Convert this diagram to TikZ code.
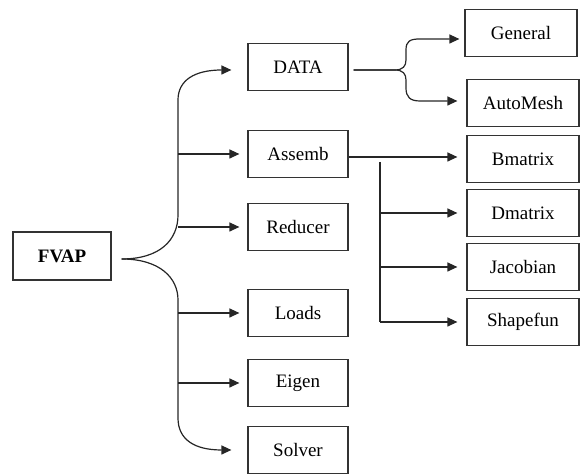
\documentclass[tikz,border=0pt]{standalone}
\usepackage{fontspec}
\setmainfont{Liberation Serif}
\usetikzlibrary{arrows.meta, positioning, calc}
\tikzset{
    modbox/.style={rectangle, draw=black!80, line width=0.6pt, fill=white,
                   align=center, inner sep=2pt, minimum width=50pt,
                   minimum height=23.5pt, font=\fontsize{9.5}{11}\selectfont},
    subbox/.style={modbox, minimum width=56pt},
    rootbox/.style={modbox, minimum width=49pt, minimum height=24pt,
                    font=\fontsize{9.5}{11}\selectfont\bfseries},
    arrow/.style={-{Triangle[length=5pt, width=4.5pt]}, line width=0.6pt, draw=black!85},
    link/.style={line width=0.6pt, draw=black!85},
}

\begin{document}
\begin{tikzpicture}[x=0.5pt, y=-0.5pt]
        \useasboundingbox (0,0) rectangle (580,474);
        % root
        \node[rootbox] (fvap) at (62, 256) {FVAP};
        % first level
        \node[modbox] (data) at (298, 67) {DATA};
        \node[modbox] (assemb) at (298, 154) {Assemb};
        \node[modbox] (reducer) at (298, 227) {Reducer};
        \node[modbox] (loads) at (298, 313) {Loads};
        \node[modbox] (eigen) at (298, 383) {Eigen};
        \node[modbox] (solver) at (298, 450) {Solver};
        % second level
        \node[subbox] (general) at (521, 33) {General};
        \node[subbox] (automesh) at (523, 103) {AutoMesh};
        \node[subbox] (bmatrix) at (523, 159) {Bmatrix};
        \node[subbox] (dmatrix) at (523, 213) {Dmatrix};
        \node[subbox] (jacobian) at (523, 267) {Jacobian};
        \node[subbox] (shapefun) at (523, 322) {Shapefun};
        % helper points
        \coordinate (fvapout) at ([xshift=5pt, yshift=-1.5pt]fvap.east);
        \coordinate (trunk) at (178, 259);
        \coordinate (dataout) at ([xshift=2.5pt, yshift=-1.5pt]data.east);
        \coordinate (fork) at (406, 70);
        \coordinate (split) at (380, 162);
        % main bracket
        \draw[arrow] (fvapout) .. controls (160,259) and (trunk |- 0,240) .. (trunk |- 0,215)
            -- (trunk |- 0,100) .. controls (trunk |- 0,80) and (195,70) .. ([xshift=-8pt, yshift=-1.5pt]data.west);
        \draw[arrow] (fvapout) .. controls (160,259) and (trunk |- 0,278) .. (trunk |- 0,300)
            -- (trunk |- 0,418) .. controls (trunk |- 0,440) and (195,450) .. ([xshift=-8pt]solver.west);
        \draw[arrow] (trunk |- assemb.west) -- ([xshift=-4pt]assemb.west);
        \draw[arrow] (trunk |- reducer.west) -- ([xshift=-4pt]reducer.west);
        \draw[arrow] (trunk |- loads.west) -- ([xshift=-4pt]loads.west);
        \draw[arrow] (trunk |- eigen.west) -- ([xshift=-4pt]eigen.west);
        % DATA fork
        \draw[arrow] (dataout) -- (395,70) .. controls (403,70) and (fork |- 0,66) .. (fork |- 0,60)
            -- (fork |- 0,50) .. controls (fork |- 0,41) and (410,39) .. (420,39)
            -- ([xshift=-2.5pt]general.west |- 0,39);
        \draw[arrow] (dataout) -- (395,70) .. controls (403,70) and (fork |- 0,74) .. (fork |- 0,80)
            -- (fork |- 0,88) .. controls (fork |- 0,97) and (410,101) .. (420,101)
            -- ([xshift=-4.5pt]automesh.west |- 0,101);
        % Assemb branches
        \draw[arrow] ([yshift=-1.5pt]assemb.east) -- ([xshift=-4.5pt, yshift=-1.5pt]bmatrix.west |- assemb.east);
        \draw[link] (split) -- (split |- shapefun.west);
        \draw[arrow] (split |- dmatrix.west) -- ([xshift=-4.5pt]dmatrix.west);
        \draw[arrow] (split |- jacobian.west) -- ([xshift=-4.5pt]jacobian.west);
        \draw[arrow] (split |- shapefun.west) -- ([xshift=-4.5pt]shapefun.west);
    \end{tikzpicture}
\end{document}
